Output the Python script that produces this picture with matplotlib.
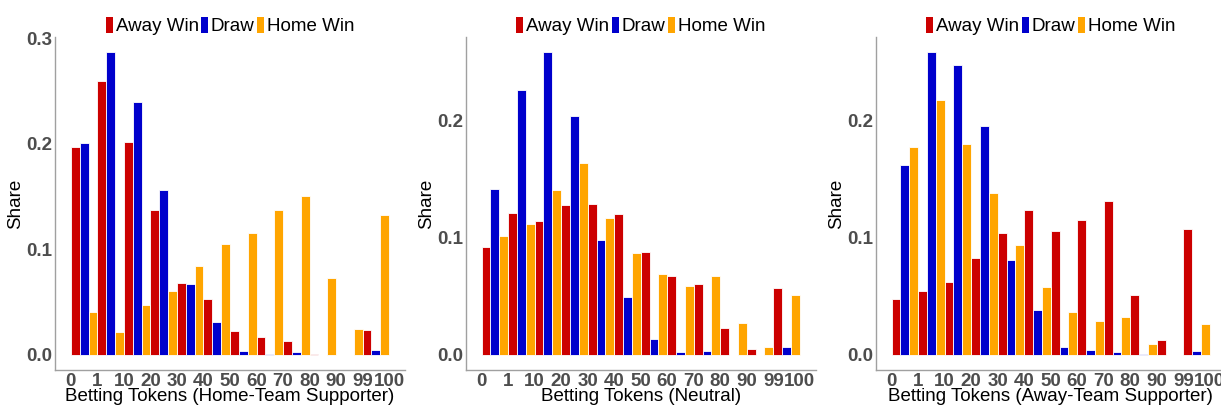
import numpy as np
import matplotlib
matplotlib.use("Agg")
import matplotlib.pyplot as plt
from matplotlib.patches import Patch

plt.rcParams['font.family'] = ['Liberation Sans', 'DejaVu Sans']

tick_labels = ["0", "1", "10", "20", "30", "40", "50", "60", "70", "80", "90", "99", "100"]
series_names = ["Away Win", "Draw", "Home Win"]
series_colors = ["#CC0000", "#0000CC", "#FFA500"]

# Panel 1: Home-Team Supporter (12 bins)
home_away = [0.197, 0.259, 0.2015, 0.137, 0.068, 0.053, 0.0227, 0.017, 0.0133, 0.001, 0.0, 0.0237]
home_draw = [0.2008, 0.2867, 0.2393, 0.1566, 0.0669, 0.0313, 0.0035, 0.001, 0.0025, 0.0, 0.0, 0.0047]
home_home = [0.041, 0.0221, 0.047, 0.0603, 0.0843, 0.1048, 0.1153, 0.137, 0.150, 0.073, 0.0243, 0.1323]

# Panel 2: Neutral
neut_away = [0.0922, 0.1209, 0.1138, 0.1275, 0.1289, 0.1203, 0.0876, 0.0671, 0.0603, 0.0233, 0.0048, 0.0569]
neut_draw = [0.1417, 0.2256, 0.2583, 0.204, 0.0979, 0.0492, 0.0137, 0.0028, 0.0034, 0.0003, 0.0003, 0.0065]
neut_home = [0.1018, 0.1118, 0.1408, 0.1636, 0.1169, 0.0873, 0.0691, 0.0586, 0.0669, 0.0273, 0.0071, 0.0512]

# Panel 3: Away-Team Supporter
away_away = [0.0478, 0.0549, 0.0623, 0.0825, 0.1038, 0.1235, 0.1055, 0.1147, 0.1312, 0.0512, 0.0125, 0.1073]
away_draw = [0.1622, 0.2583, 0.2475, 0.1949, 0.0811, 0.0381, 0.0065, 0.0043, 0.0023, 0.0009, 0.0, 0.0037]
away_home = [0.1775, 0.2171, 0.180, 0.138, 0.0939, 0.058, 0.0367, 0.0293, 0.0321, 0.0094, 0.0003, 0.0267]

panels = [
    ("Betting Tokens (Home-Team Supporter)", [home_away, home_draw, home_home], [0.0, 0.1, 0.2, 0.3]),
    ("Betting Tokens (Neutral)", [neut_away, neut_draw, neut_home], [0.0, 0.1, 0.2]),
    ("Betting Tokens (Away-Team Supporter)", [away_away, away_draw, away_home], [0.0, 0.1, 0.2]),
]

W, H = 1221, 408
fig = plt.figure(figsize=(W / 100, H / 100), dpi=100)
lefts = [55, 465.7, 875.7]
ax_w = 350
ax_bottom = 370
ax_top = 37

for (xlabel, series, yticks), left in zip(panels, lefts):
    ax = fig.add_axes([left / W, (H - ax_bottom) / H, ax_w / W, (ax_bottom - ax_top) / H])
    nb = len(series[0])
    x = np.arange(nb)
    for j, (vals, col) in enumerate(zip(series, series_colors)):
        ax.bar(x + j / 3, vals, width=1 / 3, align='edge', color=col,
               edgecolor='white', linewidth=0.6)
    ymax = max(max(s) for s in series)
    ax.set_ylim(-0.05 * ymax, 1.05 * ymax)
    ax.set_xlim(-0.6, nb + 0.6)
    ax.set_xticks(np.arange(nb + 1))
    ax.set_xticklabels(tick_labels)
    ax.set_yticks(yticks)
    ax.set_yticklabels([f"{v:.1f}" for v in yticks])
    for lab in ax.get_xticklabels() + ax.get_yticklabels():
        lab.set_fontweight('bold')
        lab.set_color('#4D4D4D')
        lab.set_fontsize(13.5)
    ax.tick_params(axis='both', length=0)
    ax.tick_params(axis='x', pad=2.5)
    ax.tick_params(axis='y', pad=2)
    for s in ['top', 'right']:
        ax.spines[s].set_visible(False)
    for s in ['left', 'bottom']:
        ax.spines[s].set_color('#A0A0A0')
        ax.spines[s].set_linewidth(1.0)
    ax.set_xlabel(xlabel, fontsize=13.5, color='black', labelpad=-1.5)
    ax.set_ylabel("Share", fontsize=13.5, color='black')
    ax.yaxis.set_label_coords(-0.087, 0.5)
    handles = [Patch(facecolor=c, edgecolor='none') for c in series_colors]
    ax.legend(handles, series_names, loc='lower center', bbox_to_anchor=(0.5, 1.0),
              ncol=3, frameon=False, fontsize=13.5, handlelength=0.38, handleheight=0.92,
              handletextpad=0.15, columnspacing=0.12, borderaxespad=0.0, borderpad=0.1)

fig.savefig("out.png", dpi=100)
